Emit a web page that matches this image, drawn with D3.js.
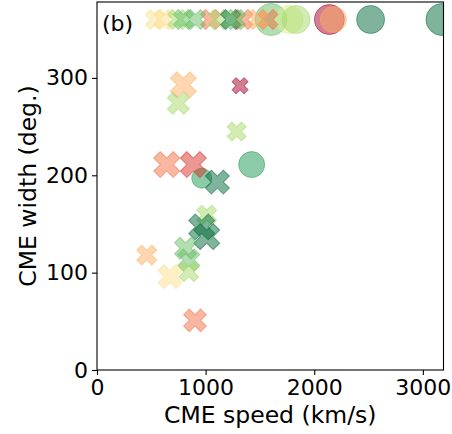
<!DOCTYPE html>
<html>
<head>
<meta charset="utf-8">
<script src="https://cdn.jsdelivr.net/npm/d3@7"></script>
<style>
    body { margin: 0; background: #fff; }
    text { font-family: "DejaVu Sans", sans-serif; }
</style>
</head>
<body>
<svg id="chart" width="452" height="434"></svg>
<script>
// CME speed (km/s), CME width (deg.), colour index into RdYlGn(11), marker area (pt^2)
const circleSpeed = [1602, 1769, 1833, 2139, 2176, 2519, 3176, 964, 1424];
const circleWidth = [360, 360, 360, 360, 360, 360, 360, 197, 211];
const circleColor = [8, 6, 7, 0, 3, 10, 10, 9, 9];
const circleArea = [531, 406, 406, 466, 350, 406, 531, 207, 350];

const crossSpeed = [1046, 1343, 1574, 537, 611, 741, 796, 907, 1120, 1231, 1278, 1481,
    795, 749, 1317, 1286, 642, 887, 1108, 1010, 964, 1010, 815, 845, 845, 672, 458, 902];
const crossWidth = [360, 360, 360, 360, 360, 360, 360, 360, 360, 360, 360, 360,
    293, 274, 292, 245, 211, 211, 193, 159, 147, 137, 125, 113, 101, 96, 118, 51];
const crossColor = [2, 2, 2, 4, 4, 7, 8, 8, 7, 10, 8, 3,
    3, 7, 0, 7, 2, 1, 10, 7, 10, 10, 8, 8, 7, 4, 3, 2];
const crossArea = [233, 233, 233, 233, 233, 233, 233, 233, 233, 233, 233, 233,
    395, 283, 150, 210, 395, 395, 336, 233, 395, 395, 283, 283, 233, 336, 233, 300];

const xTicks = [0, 1000, 2000, 3000];
const yTicks = [0, 100, 200, 300];
const xLabel = "CME speed (km/s)";
const yLabel = "CME width (deg.)";
const panelLabel = "(b)";

const margin = { left: 97, right: 8.5, top: 2, bottom: 64 };
const W = 452, H = 434;
const tickFont = "22px";
const labelFont = "23.5px";
const svg = d3.select("#chart");

const x = d3.scaleLinear().domain([0, 3190]).range([margin.left, W - margin.right]);
const y = d3.scaleLinear().domain([0, 378]).range([H - margin.bottom, margin.top]);
// marker diameter in px from area in pt^2 (100 dpi)
const diam = d3.scaleSqrt().domain([0, 100]).range([0, 10 * 100 / 72]);
const palette = d3.schemeRdYlGn[11];
const alpha = 0.5;

const circles = circleSpeed.map((s, i) => ({
    speed: s, width: circleWidth[i], c: palette[circleColor[i]], d: diam(circleArea[i])
}));
const crosses = crossSpeed.map((s, i) => ({
    speed: s, width: crossWidth[i], c: palette[crossColor[i]], d: diam(crossArea[i])
}));

svg.append("defs").append("clipPath").attr("id", "plotClip")
    .append("rect")
    .attr("x", x.range()[0]).attr("y", y.range()[1])
    .attr("width", x.range()[1] - x.range()[0])
    .attr("height", y.range()[0] - y.range()[1]);

const plot = svg.append("g").attr("clip-path", "url(#plotClip)");

plot.selectAll("path.circle")
    .data(circles)
    .join("path")
    .attr("class", "circle")
    .attr("d", (p) => d3.symbol(d3.symbolCircle, Math.PI * (p.d / 2) ** 2)())
    .attr("transform", (p) => `translate(${x(p.speed)},${y(p.width)})`)
    .attr("fill", (p) => p.c)
    .attr("fill-opacity", alpha)
    .attr("stroke", (p) => p.c)
    .attr("stroke-opacity", alpha)
    .attr("stroke-width", 1);

// matplotlib "X" = filled plus rotated by 45 deg, arm half-width = size/6
plot.selectAll("path.cross")
    .data(crosses)
    .join("path")
    .attr("class", "cross")
    .attr("d", (p) => d3.symbol(d3.symbolCross, 20 * (p.d / 6) ** 2)())
    .attr("transform", (p) => `translate(${x(p.speed)},${y(p.width)}) rotate(45)`)
    .attr("fill", (p) => p.c)
    .attr("fill-opacity", alpha)
    .attr("stroke", (p) => p.c)
    .attr("stroke-opacity", alpha)
    .attr("stroke-width", 1);

const xAxis = svg.append("g")
    .attr("transform", `translate(0,${y.range()[0]})`)
    .call(d3.axisBottom(x).tickValues(xTicks).tickFormat(d3.format("d")).tickSize(5).tickPadding(4));
const yAxis = svg.append("g")
    .attr("transform", `translate(${x.range()[0]},0)`)
    .call(d3.axisLeft(y).tickValues(yTicks).tickFormat(d3.format("d")).tickSize(5).tickPadding(4));

[xAxis, yAxis].forEach((g) => {
    g.select(".domain").remove();
    g.selectAll("line").attr("stroke", "#000").attr("stroke-width", 1.1);
    g.selectAll("text")
        .attr("fill", "#000")
        .style("font-size", tickFont)
        .style("font-family", '"DejaVu Sans", sans-serif');
});

svg.append("rect")
    .attr("x", x.range()[0]).attr("y", y.range()[1])
    .attr("width", x.range()[1] - x.range()[0])
    .attr("height", y.range()[0] - y.range()[1])
    .attr("fill", "none")
    .attr("stroke", "#000")
    .attr("stroke-width", 1.1);

svg.append("text")
    .attr("x", (x.range()[0] + x.range()[1]) / 2)
    .attr("y", 423)
    .attr("text-anchor", "middle")
    .style("font-size", labelFont)
    .text(xLabel);

svg.append("text")
    .attr("transform", `translate(36,${(y.range()[0] + y.range()[1]) / 2}) rotate(-90)`)
    .attr("text-anchor", "middle")
    .style("font-size", labelFont)
    .text(yLabel);

svg.append("text")
    .attr("x", 102)
    .attr("y", 31)
    .style("font-size", tickFont)
    .text(panelLabel);
</script>
</body>
</html>
